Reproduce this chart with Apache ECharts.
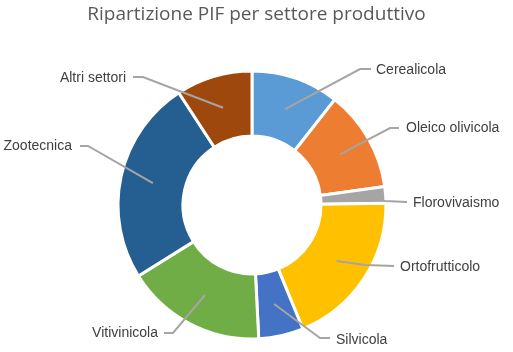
<!DOCTYPE html>
<html>
<head>
<meta charset="utf-8">
<script src="https://cdn.jsdelivr.net/npm/echarts@6/dist/echarts.min.js"></script>
<style>html,body{margin:0;padding:0;background:#fff;}#c{width:513px;height:352px;}</style>
</head>
<body>
<div id="c"></div>
<script>
const categories = ['Cerealicola','Oleico olivicola','Florovivaismo','Ortofrutticolo','Silvicola','Vitivinicola','Zootecnica','Altri settori'];
const values = [10.6, 12.2, 2.0, 19.0, 5.4, 16.9, 24.7, 9.2];
const colors = ['#5B9BD5','#ED7D31','#A5A5A5','#FFC000','#4472C4','#70AD47','#255E91','#9E480E'];

// label layout (label anchor, elbow, line end), not data
const labelAnchor = [[376,70,'left'],[406,128,'left'],[413,203,'left'],[400,267,'left'],[336,340,'left'],[158,333,'right'],[72,146,'right'],[126,78,'right']];
const labelElbow = [[360,69],[390,128],[385,201],[365,265],[320,338],[173,333],[88,146],[143,77]];
const labelEnd = [[371,69],[399,128],[407,202],[394,266],[330,338],[164,333],[80,146],[133,77]];

const CX = 252, CY = 205, R0 = 69, R1 = 134;
const total = values.reduce((a,b)=>a+b,0);
const midAngles = [];
let acc = 0;
values.forEach(v => { midAngles.push((acc + v/2) / total * 2 * Math.PI); acc += v; });

const chart = echarts.init(document.getElementById('c'));
chart.setOption({
  animation: false,
  title: {
    text: 'Ripartizione PIF per settore produttivo',
    left: 'center', top: 0,
    textStyle: {fontFamily: 'Open Sans', fontSize: 19, fontWeight: 'normal', color: '#595959'}
  },
  series: [
    {
      type: 'pie',
      center: [CX, CY],
      radius: [R0, R1],
      startAngle: 90,
      clockwise: true,
      avoidLabelOverlap: false,
      z: 2,
      data: categories.map((n,i)=>({name:n, value:values[i], itemStyle:{color:colors[i]}})),
      itemStyle: {borderColor: '#fff', borderWidth: 3},
      label: {show: true, position: 'outside', formatter: '{b}', fontFamily: 'Liberation Sans, Arial', fontSize: 14, color: '#404040'},
      labelLine: {show: false},
      labelLayout: function (p) {
        const i = p.dataIndex;
        return {
          x: labelAnchor[i][0], y: labelAnchor[i][1],
          align: labelAnchor[i][2], verticalAlign: 'middle'
        };
      }
    },
    {
      type: 'custom',
      coordinateSystem: 'none',
      silent: true,
      z: 5,
      data: categories.map((n,i)=>[i]),
      renderItem: function (params, api) {
        const i = params.dataIndex;
        const a = midAngles[i];
        const rm = (R0 + R1) / 2;
        const sx = CX + rm * Math.sin(a), sy = CY - rm * Math.cos(a);
        return {
          type: 'polyline',
          shape: {points: [[sx, sy], labelElbow[i], labelEnd[i]]},
          style: {stroke: '#A5A5A5', lineWidth: 2, fill: null}
        };
      }
    }
  ]
});
</script>
</body>
</html>
